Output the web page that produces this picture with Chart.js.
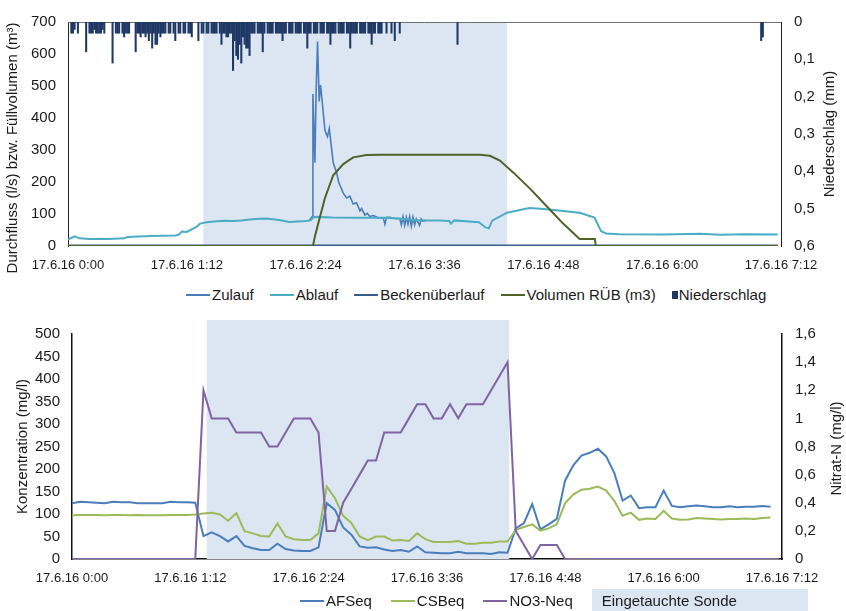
<!DOCTYPE html>
<html>
<head>
<meta charset="utf-8">
<script src="https://cdn.jsdelivr.net/npm/chart.js@4.4.0/dist/chart.umd.min.js"></script>
<style>
  html, body { margin: 0; padding: 0; background: #fff; }
  #wrap { position: relative; width: 846px; height: 611px; overflow: hidden; font-family: "Liberation Sans", Arial, sans-serif; }
  canvas { position: absolute; left: 0; }
  .legend { position: absolute; display: flex; align-items: center; font-size: 15px; line-height: 18px; color: #1a1a1a; white-space: nowrap; }
  .legend .item { display: flex; align-items: center; }
  .legend .line { width: 24px; height: 2px; margin-right: 2px; }
  .legend .sq { width: 6px; height: 8px; margin-right: 1px; }
  .legend .box { background: #dce6f2; height: 24px; width: 206px; padding-left: 10px; display: flex; align-items: center; }
</style>
</head>
<body>
<div id="wrap">
  <canvas id="chartTop" width="846" height="282" style="top:0px;width:846px;height:282px"></canvas>
  <div class="legend" id="legendTop" style="left:186px;top:286px"></div>
  <canvas id="chartBottom" width="846" height="292" style="top:300px;width:846px;height:292px"></canvas>
  <div class="legend" id="legendBottom" style="left:300px;top:589px"></div>
</div>
<script>
// x values are minutes after 17.6.16 0:00
const xMax = 432;
const xTickStep = 72;

// shaded period "Eingetauchte Sonde" (minutes)
const sondeFrom = 82;
const sondeTo = 266;
const sondeColor = '#dce6f2';

// ---------- top chart ----------
const ablaufMin = [0, 2, 4, 7, 13, 25, 34, 36, 50, 65, 67, 69, 72, 76, 78, 80, 84, 90, 95, 100, 105, 110, 116, 120, 128, 134, 144, 147, 149, 160, 175, 191, 200, 213, 225, 231, 232, 234, 249, 253, 255, 257, 266, 278, 280, 290, 310, 319, 323, 326, 334, 360, 383, 395, 410, 430];
const ablaufVal = [21, 25, 30, 24, 22, 22, 24, 28, 31, 33, 35, 45, 44, 55, 60, 70, 74, 77, 79, 78, 80, 83, 85, 86, 81, 75, 78, 80, 91, 89, 88, 88, 86, 80, 80, 78, 70, 80, 74, 58, 55, 79, 104, 117, 119, 115, 104, 89, 46, 39, 37, 36, 38, 35, 37, 36];

const zulaufMin = [146, 148, 148.4, 149.6, 150.3, 151.2, 152.2, 153, 154, 155.7, 157.2, 158.3, 160.7, 162.7, 164, 166.8, 168.8, 170.8, 172.8, 174.8, 176.9, 177.9, 179.9, 181.3, 182.9, 185, 188, 191, 192, 193, 195, 198, 201, 202, 203, 204, 205, 206, 207, 208, 209, 210, 211, 213, 214, 215, 217];
const zulaufVal = [78, 92, 475, 260, 475, 639, 452, 503, 452, 361, 342, 367, 260, 230, 200, 165, 150, 156, 131, 135, 110, 117, 97, 102, 92, 95, 88, 88, 68, 90, 90, 86, 86, 66, 92, 64, 90, 68, 92, 62, 90, 66, 85, 64, 85, 78, 80];

const volumenMin = [0, 148.4, 149.6, 152.6, 155.7, 160.7, 166.8, 172.8, 180.9, 189, 249.5, 255.6, 261.7, 269.7, 279.8, 289.9, 300, 310, 319.2, 319.8, 430];
const volumenVal = [0, 0, 30, 90, 150, 221, 256, 277, 284, 285, 285, 282, 267, 230, 180, 125, 70, 22, 22, 0, 0];

const ueberlaufMin = [0, 430];
const ueberlaufVal = [0, 0];

// Niederschlag (mm) per minute, index = minute 0..202
const rainPerMinute = [
  0, 0, 0.03, 0.03, 0.02, 0, 0.03, 0, 0, 0,
  0, 0.08, 0, 0.03, 0.03, 0.03, 0.02, 0.03, 0.03, 0.03,
  0.03, 0.02, 0.03, 0, 0, 0, 0, 0.11, 0, 0.03,
  0.03, 0.03, 0, 0.03, 0.04, 0.03, 0.03, 0.03, 0, 0,
  0, 0.08, 0.03, 0.03, 0.04, 0.03, 0.03, 0.04, 0.03, 0.05,
  0.03, 0.07, 0.03, 0.06, 0.06, 0.03, 0.04, 0.03, 0.03, 0.03,
  0, 0.03, 0.03, 0, 0.03, 0.05, 0, 0.03, 0.03, 0,
  0.03, 0.03, 0, 0.03, 0.03, 0.04, 0, 0, 0, 0.05,
  0, 0.03, 0.03, 0, 0.03, 0.03, 0, 0.03, 0.03, 0.03,
  0.03, 0, 0.03, 0.06, 0.03, 0.03, 0.04, 0.04, 0.03, 0.03,
  0.13, 0.05, 0.09, 0.10, 0.06, 0.11, 0.04, 0.06, 0.07, 0.07,
  0.09, 0.03, 0.03, 0.03, 0, 0.03, 0.03, 0.03, 0.08, 0.03,
  0, 0.03, 0.03, 0.03, 0.03, 0, 0.03, 0.03, 0.03, 0.03,
  0.05, 0.03, 0.03, 0, 0.03, 0.03, 0.03, 0, 0.03, 0.03,
  0.03, 0.03, 0, 0.03, 0.03, 0.07, 0.03, 0.03, 0, 0.03,
  0.03, 0.03, 0, 0.03, 0.03, 0.03, 0, 0.03, 0.03, 0.06,
  0.03, 0.03, 0.03, 0, 0.03, 0.03, 0.03, 0.03, 0, 0.03,
  0.03, 0.07, 0.03, 0.03, 0.03, 0.03, 0, 0.03, 0.03, 0.03,
  0.03, 0, 0.03, 0.03, 0.06, 0.03, 0.03, 0, 0.03, 0.03,
  0.03, 0, 0, 0.03, 0, 0, 0.03, 0, 0.05, 0,
  0, 0.03, 0
];
const rainExtraMin = [236, 420, 421];
const rainExtraVal = [0.06, 0.05, 0.04];

// ---------- bottom chart (5 minute values) ----------
const probeMin = [0, 5, 10, 15, 20, 25, 30, 35, 40, 45, 50, 55, 60, 65, 70, 75,
  80, 85, 90, 95, 100, 105, 110, 115, 120, 125, 130,
  135, 140, 145, 150, 155, 160, 165, 170, 175, 180, 185, 190, 195, 200, 205, 210, 215, 220, 225, 230, 235, 240, 245, 250, 255, 260, 265,
  270, 275, 280, 285, 290, 295, 300, 305, 310, 315, 320, 325, 330, 335, 340, 345, 350, 355, 360, 365, 370, 375, 380, 385, 390, 395, 400, 405, 410, 415, 420, 425, 430];
const afsEq = [124, 127, 126, 125, 124, 127, 126, 126, 124, 124, 124, 124, 127, 126, 126, 125,
  51, 59, 51, 39, 51, 29, 24, 20, 20, 34, 22,
  19, 18, 18, 26, 124, 109, 70, 54, 28, 25, 26, 21, 18, 20, 16, 28, 15, 14, 13, 13, 16, 13, 13, 13, 11, 15, 14,
  68, 80, 122, 66, 77, 89, 174, 208, 230, 236, 245, 228, 191, 130, 141, 113, 115, 115, 152, 118, 115, 117, 119, 117, 115, 115, 117, 115, 116, 116, 118, 116, null];
const csbEq = [97, 98, 98, 98, 97, 98, 98, 97, 98, 97, 97, 97, 98, 98, 98, 99,
  101, 103, 99, 85, 102, 62, 57, 51, 50, 79, 50,
  44, 42, 42, 57, 161, 135, 96, 80, 50, 42, 50, 50, 41, 42, 40, 57, 44, 38, 38, 38, 40, 34, 34, 36, 36, 39, 39,
  65, 71, 77, 63, 68, 77, 124, 143, 154, 156, 161, 152, 129, 96, 103, 87, 90, 89, 107, 90, 87, 88, 91, 90, 89, 88, 89, 89, 90, 89, 91, 92, null];
const no3Eq = [0, 0, 0, 0, 0, 0, 0, 0, 0, 0, 0, 0, 0, 0, 0, 0,
  1.2, 1.0, 1.0, 1.0, 0.9, 0.9, 0.9, 0.9, 0.8, 0.8, 0.9,
  1.0, 1.0, 1.0, 0.9, 0.2, 0.2, 0.4, 0.5, 0.6, 0.7, 0.7, 0.9, 0.9, 0.9, 1.0, 1.1, 1.1, 1.0, 1.0, 1.1, 1.0, 1.1, 1.1, 1.1, 1.2, 1.3, 1.4,
  0.2, 0.1, 0, 0.1, 0.1, 0.1, 0, 0, 0, 0, 0, 0, 0, 0, 0, 0, 0, 0, 0, 0, 0, 0, 0, 0, 0, 0, 0, 0, 0, 0, 0, 0, 0];

const colors = {
  zulauf: '#4a7ebb',
  ablauf: '#4bacc6',
  ueberlauf: '#385d8a',
  volumen: '#4f6228',
  rain: '#1f3864',
  afs: '#4a7ebb',
  csb: '#9bbb59',
  no3: '#8064a2'
};

Chart.defaults.font.family = '"Liberation Sans", Arial, sans-serif';
Chart.defaults.color = '#1a1a1a';

function timeLabel(min) {
  const h = Math.floor(min / 60);
  const m = Math.round(min % 60);
  return '17.6.16 ' + h + ':' + String(m).padStart(2, '0');
}

function commaLabel(v) {
  return String(Math.round(v * 10) / 10).replace('.', ',');
}

function toPoints(xs, ys) {
  return xs.map((x, i) => ({ x: x, y: ys[i] }));
}

const rainPoints = rainPerMinute
  .map((v, i) => ({ x: i, y: v }))
  .filter(p => p.y > 0)
  .concat(toPoints(rainExtraMin, rainExtraVal));

// shading and frame behind the data
const sondePlugin = {
  id: 'sonde',
  beforeDatasetsDraw(chart, args, opts) {
    const { ctx, chartArea, scales } = chart;
    const x0 = scales.x.getPixelForValue(sondeFrom);
    const x1 = scales.x.getPixelForValue(sondeTo);
    const top = chartArea.top - (opts.above || 0);
    ctx.save();
    ctx.fillStyle = sondeColor;
    ctx.fillRect(x0, top, x1 - x0, chartArea.bottom - top);
    if (opts.frame) {
      ctx.strokeStyle = '#6f6f6f';
      ctx.lineWidth = 1;
      ctx.beginPath();
      ctx.moveTo(chartArea.left, chartArea.top + 0.5);
      ctx.lineTo(chartArea.right, chartArea.top + 0.5);
      ctx.stroke();
    }
    ctx.restore();
  }
};

// rotated axis titles (both read bottom to top)
const axisTitlePlugin = {
  id: 'axisTitles',
  afterDraw(chart, args, opts) {
    const { ctx, chartArea } = chart;
    const midY = (chartArea.top + chartArea.bottom) / 2;
    ctx.save();
    ctx.fillStyle = '#1a1a1a';
    ctx.font = '15px "Liberation Sans", Arial, sans-serif';
    ctx.textAlign = 'center';
    ctx.textBaseline = 'middle';
    opts.items.forEach(t => {
      ctx.save();
      ctx.translate(t.x, midY + (t.dy || 0));
      ctx.rotate(-Math.PI / 2);
      ctx.fillText(t.text, 0, 0);
      ctx.restore();
    });
    ctx.restore();
  }
};

function xScale(height) {
  return {
    type: 'linear', min: 0, max: xMax, offset: false,
    grid: { display: false, drawTicks: false },
    border: { display: false },
    ticks: { stepSize: xTickStep, autoSkip: false, maxRotation: 0, padding: 12, font: { size: 13 }, callback: v => timeLabel(v) },
    afterFit: s => { s.height = height; }
  };
}

const topChart = new Chart(document.getElementById('chartTop'), {
  type: 'line',
  data: {
    datasets: [
      { type: 'bar', label: 'Niederschlag', data: rainPoints, yAxisID: 'yRain', backgroundColor: colors.rain, barThickness: 1.4, order: 6 },
      { label: 'Zulauf', data: toPoints(zulaufMin, zulaufVal), borderColor: colors.zulauf, borderWidth: 1.6, order: 5 },
      { label: 'Ablauf', data: toPoints(ablaufMin, ablaufVal), borderColor: colors.ablauf, borderWidth: 2, order: 4 },
      { label: 'Beckenüberlauf', data: toPoints(ueberlaufMin, ueberlaufVal), borderColor: colors.ueberlauf, borderWidth: 3, order: 3 },
      { label: 'Volumen RÜB (m3)', data: toPoints(volumenMin, volumenVal), borderColor: colors.volumen, borderWidth: 2, order: 2 }
    ]
  },
  options: {
    responsive: false,
    animation: false,
    layout: { padding: { top: 15, left: 0, right: 0, bottom: 0 } },
    elements: { point: { radius: 0 }, line: { tension: 0 } },
    plugins: {
      legend: { display: false },
      tooltip: { enabled: false },
      sonde: { above: 0, frame: true },
      axisTitles: { items: [
        { text: 'Durchfluss (l/s) bzw. Füllvolumen (m³)', x: 13, dy: 14 },
        { text: 'Niederschlag (mm)', x: 830, dy: 0 }
      ] }
    },
    scales: {
      x: xScale(36),
      y: {
        position: 'left', min: 0, max: 700,
        grid: { display: false, drawTicks: false },
        border: { display: true, color: '#222' },
        ticks: { stepSize: 100, padding: 12, font: { size: 15 } },
        afterFit: s => { s.width = 68; }
      },
      yRain: {
        position: 'right', reverse: true, min: 0, max: 0.6,
        grid: { display: false, drawTicks: false },
        border: { display: true, color: '#222' },
        ticks: { stepSize: 0.1, padding: 13, font: { size: 15 }, callback: v => commaLabel(v) },
        afterFit: s => { s.width = 65; }
      }
    }
  },
  plugins: [sondePlugin, axisTitlePlugin]
});

const bottomChart = new Chart(document.getElementById('chartBottom'), {
  type: 'line',
  data: {
    datasets: [
      { label: 'AFSeq', data: toPoints(probeMin, afsEq), borderColor: colors.afs, borderWidth: 2, order: 3 },
      { label: 'CSBeq', data: toPoints(probeMin, csbEq), borderColor: colors.csb, borderWidth: 2, order: 2 },
      { label: 'NO3-Neq', data: toPoints(probeMin, no3Eq), yAxisID: 'yN', borderColor: colors.no3, borderWidth: 2, order: 1 }
    ]
  },
  options: {
    responsive: false,
    animation: false,
    layout: { padding: { top: 34, left: 0, right: 0, bottom: 0 } },
    elements: { point: { radius: 0 }, line: { tension: 0 } },
    plugins: {
      legend: { display: false },
      tooltip: { enabled: false },
      sonde: { above: 14, frame: false },
      axisTitles: { items: [
        { text: 'Konzentration (mg/l)', x: 23, dy: 0 },
        { text: 'Nitrat-N (mg/l)', x: 837, dy: 2 }
      ] }
    },
    scales: {
      x: Object.assign(xScale(33), { border: { display: true, color: '#111', width: 1.5 } }),
      y: {
        position: 'left', min: 0, max: 500,
        grid: { display: false, drawTicks: false },
        border: { display: true, color: '#111', width: 1.5 },
        ticks: { stepSize: 50, padding: 12, font: { size: 15 } },
        afterFit: s => { s.width = 72; }
      },
      yN: {
        position: 'right', min: 0, max: 1.6,
        grid: { display: false, drawTicks: false },
        border: { display: true, color: '#111', width: 1.5 },
        ticks: { stepSize: 0.2, padding: 13, font: { size: 15 }, callback: v => commaLabel(v) },
        afterFit: s => { s.width = 64; }
      }
    }
  },
  plugins: [sondePlugin, axisTitlePlugin]
});

// legends as in the original (Excel style)
function buildLegend(el, items, gap) {
  items.forEach((it, i) => {
    const item = document.createElement('div');
    item.className = 'item';
    if (i < items.length - 1) item.style.marginRight = gap + 'px';
    const mark = document.createElement('span');
    if (it.kind === 'box') {
      item.className = 'item box';
    } else {
      mark.className = it.kind;
      mark.style.background = it.color;
      item.appendChild(mark);
    }
    const label = document.createElement('span');
    label.textContent = it.text;
    item.appendChild(label);
    el.appendChild(item);
  });
}

buildLegend(document.getElementById('legendTop'), [
  { text: 'Zulauf', color: colors.zulauf, kind: 'line' },
  { text: 'Ablauf', color: colors.ablauf, kind: 'line' },
  { text: 'Beckenüberlauf', color: colors.ueberlauf, kind: 'line' },
  { text: 'Volumen RÜB (m3)', color: colors.volumen, kind: 'line' },
  { text: 'Niederschlag', color: colors.rain, kind: 'sq' }
], 16);

buildLegend(document.getElementById('legendBottom'), [
  { text: 'AFSeq', color: colors.afs, kind: 'line' },
  { text: 'CSBeq', color: colors.csb, kind: 'line' },
  { text: 'NO3-Neq', color: colors.no3, kind: 'line' },
  { text: 'Eingetauchte Sonde', kind: 'box' }
], 19);
</script>
</body>
</html>
